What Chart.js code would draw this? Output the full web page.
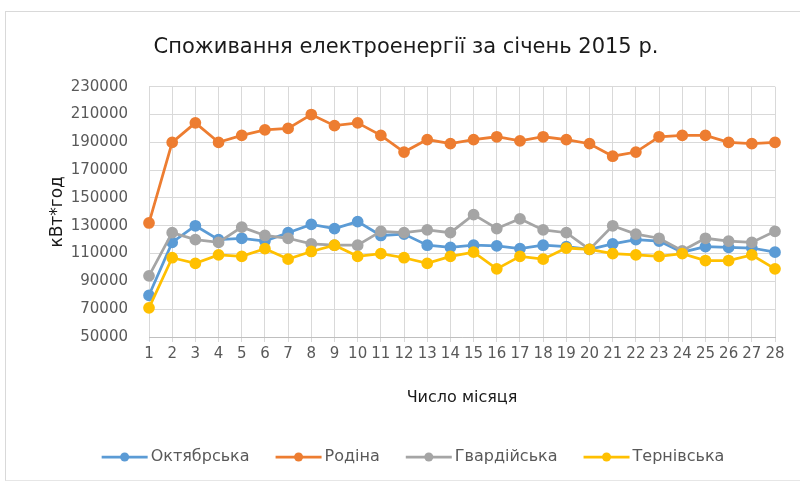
<!DOCTYPE html>
<html>
<head>
<meta charset="utf-8">
<script src="https://cdn.jsdelivr.net/npm/chart.js@4.4.1/dist/chart.umd.min.js"></script>
<style>
  html, body { margin: 0; padding: 0; background: #fff; }
  #wrap { position: relative; width: 800px; height: 482px; }
  #frame { position: absolute; left: 5px; top: 11px; width: 800px; height: 468px;
           border-left: 1px solid #d9d9d9; border-top: 1px solid #d9d9d9; border-bottom: 1px solid #e6e6e6; }
  canvas { position: absolute; left: 0; top: 0; }
</style>
</head>
<body>
<div id="wrap">
  <div id="frame"></div>
  <canvas id="c" width="800" height="482"></canvas>
</div>
<script>
const TITLE = 'Споживання електроенергії за січень 2015 р.';
const X_TITLE = 'Число місяця';
const Y_TITLE = 'кВт*год';
const days = ['1','2','3','4','5','6','7','8','9','10','11','12','13','14','15','16','17','18','19','20','21','22','23','24','25','26','27','28'];

const oktyabrska = [80000,118000,130000,120000,121000,119000,125000,131000,128000,133000,123000,124000,116000,114500,116000,115500,113500,116000,115000,113000,117000,120000,119000,111000,115000,114500,114000,111000];
const rodina     = [132000,190000,204000,190000,195000,199000,200000,210000,202000,204000,195000,183000,192000,189000,192000,194000,191000,194000,192000,189000,180000,183000,194000,195000,195000,190000,189000,190000];
const gvardiyska = [94000,125000,120000,118000,129000,123000,121000,117000,116000,116000,126000,125000,127000,125000,138000,128000,135000,127000,125000,113000,130000,124000,121000,112000,121000,119000,118000,126000];
const ternivska  = [71000,107000,103000,109000,108000,113500,106000,111500,116000,108000,110000,107000,103000,108000,111000,99000,108000,106000,114000,113000,110000,109000,108000,110000,105000,105000,109000,99000];

const Y_MIN = 50000, Y_MAX = 230000, Y_STEP = 20000;

const FONT = 'DejaVu Sans';
const TEXT = '#595959';

function series(label, data, color, order) {
  return { label, data, borderColor: color, backgroundColor: color,
    pointBackgroundColor: color, pointBorderColor: color,
    borderWidth: 2.75, pointRadius: 4.5, pointHoverRadius: 4.5, tension: 0, order };
}

const legendPlugin = {
  id: 'xlLegend',
  afterDraw(chart) {
    const ctx = chart.ctx;
    const ds = chart.data.datasets;
    ctx.save();
    ctx.font = '16px "' + FONT + '"';
    const mark = 46, gapMT = 3, gapItems = 26;
    const widths = ds.map(d => mark + gapMT + ctx.measureText(d.label).width);
    const total = widths.reduce((a, b) => a + b, 0) + gapItems * (ds.length - 1);
    let x = 413 - total / 2;
    const y = 457;
    ds.forEach((d, i) => {
      ctx.strokeStyle = d.borderColor; ctx.lineWidth = 2.75;
      ctx.beginPath(); ctx.moveTo(x, y); ctx.lineTo(x + mark, y); ctx.stroke();
      ctx.fillStyle = d.borderColor;
      ctx.beginPath(); ctx.arc(x + mark / 2, y, 4.5, 0, Math.PI * 2); ctx.fill();
      ctx.fillStyle = TEXT; ctx.textBaseline = 'middle'; ctx.textAlign = 'left';
      ctx.fillText(d.label, x + mark + gapMT, y);
      x += widths[i] + gapItems;
    });
    ctx.restore();
  }
};

new Chart(document.getElementById('c'), {
  type: 'line',
  data: {
    labels: days,
    datasets: [
      series('Октябрська', oktyabrska, '#5B9BD5', 4),
      series('Родіна', rodina, '#ED7D31', 3),
      series('Гвардійська', gvardiyska, '#A5A5A5', 2),
      series('Тернівська', ternivska, '#FFC000', 1)
    ]
  },
  options: {
    responsive: false,
    animation: false,
    layout: { padding: { left: 37, right: 25, top: 0, bottom: 62 } },
    plugins: {
      legend: { display: false },
      tooltip: { enabled: false },
      title: { display: true, text: TITLE, color: '#1a1a1a',
        font: { family: FONT, size: 21, weight: 'normal' }, padding: { top: 35, bottom: 26.5 } }
    },
    scales: {
      x: {
        offset: false,
        grid: { color: '#d9d9d9', lineWidth: 1, drawTicks: true, tickLength: 5 },
        border: { color: '#bfbfbf', width: 1 },
        ticks: { color: TEXT, font: { family: FONT, size: 15 }, padding: 3, maxRotation: 0, autoSkip: false },
        title: { display: true, text: X_TITLE, color: '#1a1a1a', font: { family: FONT, size: 16 }, padding: { top: 0, bottom: 13 } },
        afterFit(s) { s.height = 83; }
      },
      y: {
        min: Y_MIN, max: Y_MAX,
        grid: { color: '#d9d9d9', lineWidth: 1, drawTicks: false },
        border: { display: false },
        ticks: { stepSize: Y_STEP, color: TEXT, font: { family: FONT, size: 15 }, padding: 21,
          callback: v => String(v) },
        title: { display: true, text: Y_TITLE, color: '#1a1a1a', font: { family: FONT, size: 17 }, padding: { top: 10, bottom: 0 } },
        afterFit(s) { s.width = 112; }
      }
    }
  },
  plugins: [legendPlugin]
});
</script>
</body>
</html>
